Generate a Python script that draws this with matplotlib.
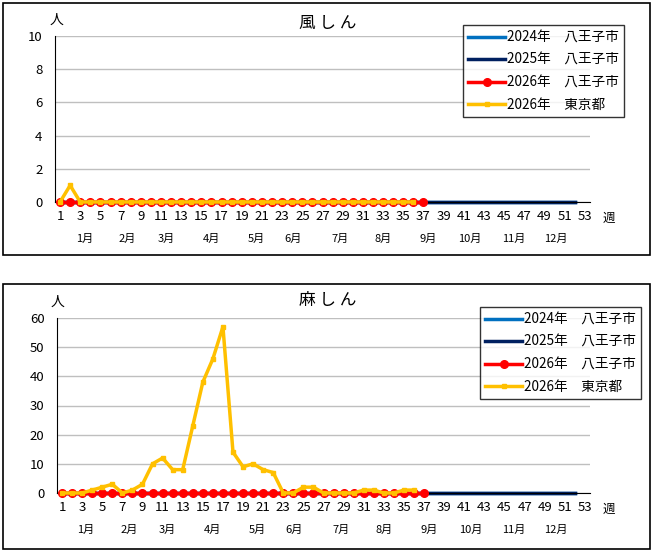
import numpy as np
import matplotlib
matplotlib.use("Agg")
import matplotlib.pyplot as plt
from matplotlib.patches import Rectangle

plt.rcParams['font.family'] = ['Noto Sans CJK JP', 'DejaVu Sans']

# 週番号
weeks = np.arange(1, 54)
week_ticks = list(range(1, 54, 2))

# 月ラベル
months = ["1月", "2月", "3月", "4月", "5月", "6月",
          "7月", "8月", "9月", "10月", "11月", "12月"]
month_pos = [3.4, 7.7, 11.5, 16.0, 20.4, 24.1, 28.7, 33.0, 37.5, 41.6, 45.9, 50.1]

# 風しん
rubella_2024 = [0] * 52
rubella_2025 = [0] * 52
rubella_2026_hachioji = [0] * 37
rubella_2026_tokyo = [0, 1] + [0] * 34

# 麻しん
measles_2024 = [0] * 52
measles_2025 = [0] * 52
measles_2026_hachioji = [0] * 37
measles_2026_tokyo = [0, 0, 0, 1, 2, 3, 0, 1, 3, 10, 12, 8, 8, 23, 38, 46, 57, 14,
                      9, 10, 8, 7, 0, 0, 2, 2, 0, 0, 0, 0, 1, 1, 0, 0, 1, 1]

labels = ["2024年　八王子市", "2025年　八王子市", "2026年　八王子市", "2026年　東京都"]
colors = ["#0070C0", "#002060", "#FF0000", "#FFC000"]

W, H = 656, 552


def frac(x0, y0, x1, y1):
    # ピクセル座標 -> figure 座標
    return [x0 / W, 1 - y1 / H, (x1 - x0) / W, (y1 - y0) / H]


def draw_panel(fig, ax_box, border, title, title_y, ymax, ystep, series, legend_box):
    # 外枠
    bx = frac(*border)
    fig.patches.append(Rectangle((bx[0], bx[1]), bx[2], bx[3], transform=fig.transFigure,
                                 fill=False, edgecolor="black", linewidth=1.2))
    ax = fig.add_axes(frac(*ax_box))
    s2024, s2025, s_hachi, s_tokyo = series

    ax.plot(weeks[:len(s2024)], s2024, color=colors[0], lw=2.5, label=labels[0], clip_on=False)
    ax.plot(weeks[:len(s2025)], s2025, color=colors[1], lw=2.5, label=labels[1], clip_on=False)
    ax.plot(weeks[:len(s_hachi)], s_hachi, color=colors[2], lw=2.5, marker="o", ms=5.5,
            label=labels[2], clip_on=False, zorder=3)
    ax.plot(weeks[:len(s_tokyo)], s_tokyo, color=colors[3], lw=2.5, marker="s", ms=3.5,
            label=labels[3], clip_on=False, zorder=4)

    ax.set_xlim(0.5, 53.5)
    ax.set_ylim(0, ymax)
    ax.set_yticks(np.arange(0, ymax + 1, ystep))
    ax.set_xticks(week_ticks)
    ax.tick_params(axis="both", length=0, labelsize=9.5, pad=6)
    ax.tick_params(axis="y", pad=9)
    ax.grid(axis="y", color="#BFBFBF", lw=1)
    ax.set_axisbelow(True)
    for side in ["top", "right"]:
        ax.spines[side].set_visible(False)
    ax.spines["left"].set_color("black")
    ax.spines["bottom"].set_color("black")

    for m, p in zip(months, month_pos):
        ax.annotate(m, xy=(p, 0), xycoords=("data", "axes fraction"),
                    xytext=(0, -37), textcoords="offset pixels",
                    ha="center", va="center", fontsize=8)
    ax.annotate("人", xy=(0, 1), xycoords="axes fraction", xytext=(1, 16),
                textcoords="offset pixels", ha="center", va="center", fontsize=10)
    ax.annotate("週", xy=(1, 0), xycoords="axes fraction", xytext=(19, -16),
                textcoords="offset pixels", ha="center", va="center", fontsize=9)
    fig.text(328 / W, 1 - title_y / H, title, ha="center", va="center", fontsize=12)

    lb = frac(*legend_box)
    leg = ax.legend(loc="upper left", bbox_to_anchor=(lb[0], lb[1] + lb[3]),
                    bbox_transform=fig.transFigure, fontsize=9.8, frameon=True,
                    fancybox=False, edgecolor="black", handlelength=2.7,
                    handletextpad=0.1, labelspacing=0.62, borderpad=0.4, borderaxespad=0)
    leg.get_frame().set_linewidth(1)
    return ax


fig = plt.figure(figsize=(W / 100, H / 100), dpi=100)

draw_panel(fig, (55, 36, 590, 202), (3, 3, 650, 255), "風 し ん", 23, 10, 2,
           (rubella_2024, rubella_2025, rubella_2026_hachioji, rubella_2026_tokyo),
           (463, 25, 626, 116))
draw_panel(fig, (57, 318, 590, 493), (3, 284, 650, 549), "麻 し ん", 300, 60, 10,
           (measles_2024, measles_2025, measles_2026_hachioji, measles_2026_tokyo),
           (480, 307, 625, 402))

fig.savefig("out.png", dpi=100)
